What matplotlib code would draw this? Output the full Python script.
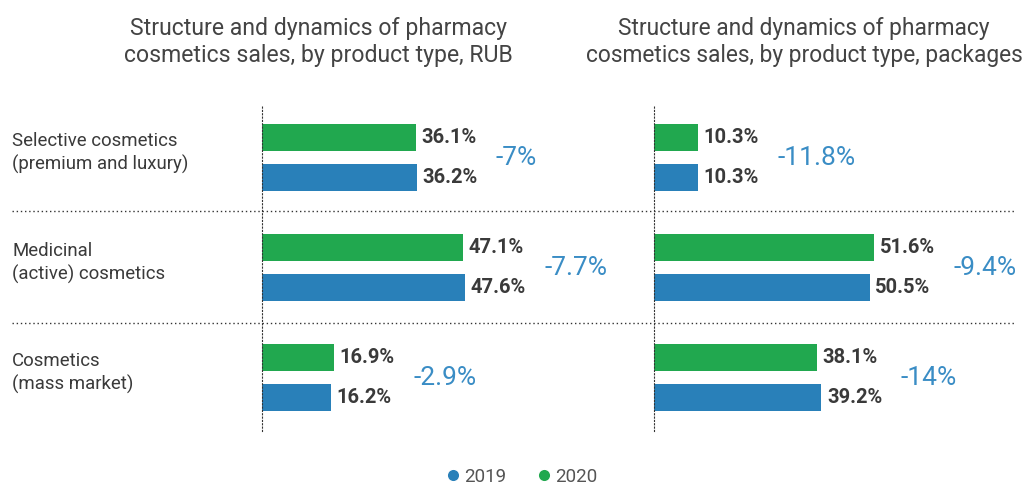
import matplotlib
matplotlib.use("Agg")
import matplotlib.pyplot as plt
from matplotlib.lines import Line2D
from matplotlib.transforms import blended_transform_factory

plt.rcParams['font.family'] = ['Roboto', 'DejaVu Sans']

# Data
categories = ["Selective cosmetics\n(premium and luxury)",
              "Medicinal\n(active) cosmetics",
              "Cosmetics\n(mass market)"]
rub_2019 = [36.2, 47.6, 16.2]
rub_2020 = [36.1, 47.1, 16.9]
rub_change = ["-7%", "-7.7%", "-2.9%"]
pkg_2019 = [10.3, 50.5, 39.2]
pkg_2020 = [10.3, 51.6, 38.1]
pkg_change = ["-11.8%", "-9.4%", "-14%"]
titles = ["Structure and dynamics of pharmacy\ncosmetics sales, by product type, RUB",
          "Structure and dynamics of pharmacy\ncosmetics sales, by product type, packages"]
years = ["2019", "2020"]

BLUE = "#2980B9"
GREEN = "#21A84F"
DELTA = "#3A8DC5"
TEXT = "#3a3a3a"

W, H = 1026, 486
fig = plt.figure(figsize=(W / 100, H / 100), dpi=100)

PX_PER_PCT = 4.27
ax_bottom, ax_top = 55.5, 381


def make_axes(left_px, right_px):
    ax = fig.add_axes([left_px / W, ax_bottom / H, (right_px - left_px) / W, (ax_top - ax_bottom) / H])
    ax.set_xlim(0, (right_px - left_px) / PX_PER_PCT)
    ax.set_ylim(2.48, -0.48)
    ax.set_facecolor("none")
    for s in ["top", "right", "bottom"]:
        ax.spines[s].set_visible(False)
    ax.spines["left"].set_linestyle((0, (1, 2)))
    ax.spines["left"].set_color("#333333")
    ax.set_xticks([])
    ax.set_yticks([])
    return ax


ax1 = make_axes(262, 620)
ax2 = make_axes(654, 1026)

off = 0.182
bh = 0.247
for ax, v19, v20, chg in [(ax1, rub_2019, rub_2020, rub_change),
                          (ax2, pkg_2019, pkg_2020, pkg_change)]:
    ys = range(len(v19))
    ax.barh([y - off for y in ys], v20, height=bh, color=GREEN)
    ax.barh([y + off for y in ys], v19, height=bh, color=BLUE)
    for y, a, b, c in zip(ys, v19, v20, chg):
        ax.annotate(f"{b}%", (b, y - off), xytext=(4, 0), textcoords="offset points",
                    va="center", ha="left", fontsize=14.5, fontweight="bold", color=TEXT)
        ax.annotate(f"{a}%", (a, y + off), xytext=(4, 0), textcoords="offset points",
                    va="center", ha="left", fontsize=14.5, fontweight="bold", color=TEXT)
        ax.annotate(c, (max(a, b), y), xytext=(57, 0), textcoords="offset points",
                    va="center", ha="left", fontsize=19, color=DELTA)

# dotted separators running across both panels
x0 = (12 - 262) / 358
x1 = (1015 - 262) / 358
for y in [0.48, 1.5]:
    ax1.axhline(y, xmin=x0, xmax=x1, color="#333333", linestyle=(0, (1, 2)),
                linewidth=1, clip_on=False)

# category labels
tr = blended_transform_factory(fig.transFigure, ax1.transData)
for i, c in enumerate(categories):
    ax1.text(12 / W, i - 0.04, c, transform=tr, ha="left", va="center",
             fontsize=13.4, color=TEXT, linespacing=1.33)

# titles
fig.text(318 / W, 1 - 42 / H, titles[0], ha="center", va="center",
         fontsize=16.6, color="#444444", linespacing=1.22)
fig.text(804 / W, 1 - 42 / H, titles[1], ha="center", va="center",
         fontsize=16.4, color="#444444", linespacing=1.22)

# legend
handles = [Line2D([0], [0], marker="o", color="w", markerfacecolor=BLUE, markersize=9),
           Line2D([0], [0], marker="o", color="w", markerfacecolor=GREEN, markersize=9)]
fig.legend(handles, years, loc="center", bbox_to_anchor=(0.507, 1 - 477 / H), ncol=2,
           frameon=False, fontsize=13.5, labelcolor="#555555", handletextpad=0.1,
           columnspacing=1.5, handlelength=1)

fig.savefig("out.png", dpi=100)
